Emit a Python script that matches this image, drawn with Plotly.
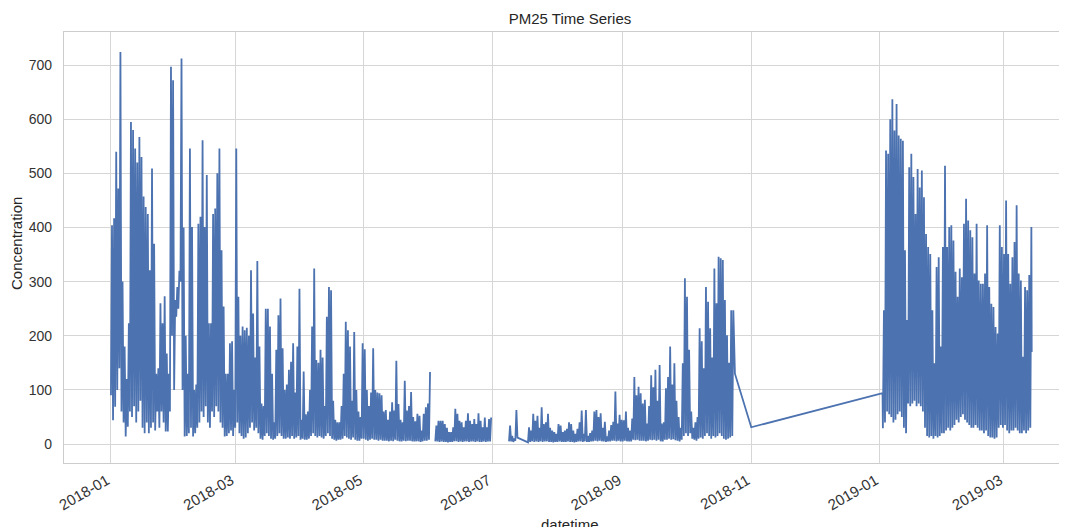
import pandas as pd
import plotly.graph_objects as go

# ---- data: daily high / low readings per continuous segment ----
segA_start = "2018-01-01"
segA_hi = [404, 417, 540, 472, 724, 300, 180, 120, 223, 595,
           580, 546, 520, 567, 530, 457, 438, 425, 321, 509,
           370, 130, 140, 260, 223, 273, 167, 130, 697, 672,
           266, 290, 320, 712, 400, 200, 130, 546, 401, 100,
           110, 407, 420, 561, 401, 497, 223, 223, 425, 435,
           500, 546, 358, 254, 130, 130, 186, 190, 100, 546,
           272, 200, 217, 210, 215, 200, 321, 241, 160, 338,
           180, 75, 70, 250, 250, 217, 130, 40, 174, 238,
           269, 177, 100, 110, 137, 152, 186, 95, 180, 287,
           45, 134, 55, 60, 100, 217, 324, 155, 150, 174,
           160, 70, 235, 290, 284, 80, 45, 40, 40, 70,
           130, 226, 210, 180, 80, 207, 100, 60, 50, 186,
           175, 100, 70, 95, 177, 100, 95, 94, 90, 60,
           63, 45, 60, 77, 62, 154, 74, 45, 40, 117,
           62, 70, 96, 50, 42, 56, 52, 25, 56, 68,
           75, 133]
segA_lo = [90, 44, 69, 100, 140, 60, 40, 14, 32, 60,
           50, 70, 40, 60, 80, 30, 20, 40, 20, 30,
           40, 25, 60, 30, 60, 40, 23, 23, 60, 200,
           100, 235, 250, 300, 100, 14, 15, 20, 30, 14,
           20, 30, 40, 60, 50, 70, 40, 30, 60, 50,
           70, 60, 40, 30, 14, 15, 20, 25, 15, 30,
           40, 20, 15, 10, 12, 20, 30, 40, 25, 30,
           20, 10, 8, 15, 20, 15, 10, 8, 10, 15,
           20, 15, 10, 10, 12, 10, 15, 10, 12, 15,
           8, 10, 8, 8, 10, 15, 20, 15, 12, 15,
           12, 10, 15, 20, 15, 10, 8, 6, 8, 8,
           10, 15, 12, 10, 8, 12, 8, 6, 6, 10,
           10, 8, 6, 8, 10, 8, 8, 6, 8, 6,
           6, 6, 5, 6, 5, 8, 6, 5, 5, 6,
           5, 6, 6, 5, 5, 5, 5, 4, 5, 6,
           6, 8]

segB_start = "2018-06-04"
segB_hi = [34, 43, 43, 43, 37, 30, 22, 22, 31, 65, 56, 43, 40, 31, 43, 57,
           43, 37, 46, 37, 57, 43, 31, 49, 31, 46, 49]
segB_lo = [5, 5, 4, 5, 4, 4, 3, 4, 4, 5, 5, 4, 5, 4, 5, 5,
           4, 5, 5, 4, 5, 4, 4, 5, 4, 5, 5]

segC_start = "2018-07-09"
segC_hi = [34, 15, 10, 63]
segC_lo = [5, 5, 4, 6]

segD_start = "2018-07-18"
segD_hi = [31, 25, 56, 43, 52, 30, 68, 37, 40, 56,
           30, 25, 22, 19, 37, 34, 22, 25, 28, 40,
           37, 25, 19, 28, 40, 62, 19,
           63, 15, 20, 25, 60, 63, 50, 57, 30, 41,
           14, 25, 35, 41, 97, 38, 54, 45, 44, 60,
           30, 25, 47, 124, 90, 106, 94, 75, 82, 38,
           70, 127, 105, 137, 80, 146, 38, 40, 103, 124,
           180, 110, 149, 80, 50, 30, 149, 306, 272, 174,
           60, 30, 40, 50, 214, 190, 140, 290, 263, 214,
           160, 324, 260, 346, 343, 340, 266, 201, 150, 247, 247]
segD_lo = [3, 4, 5, 4, 5, 4, 5, 4, 5, 5,
           4, 4, 3, 4, 4, 5, 4, 4, 4, 5,
           4, 4, 3, 4, 5, 5, 4,
           5, 4, 4, 5, 5, 6, 5, 6, 5, 5,
           4, 5, 5, 6, 6, 5, 6, 5, 5, 6,
           5, 5, 5, 8, 7, 8, 6, 6, 6, 5,
           6, 8, 7, 8, 6, 8, 5, 5, 8, 8,
           10, 8, 9, 7, 6, 5, 8, 15, 20, 15,
           20, 10, 8, 6, 10, 12, 10, 15, 20, 15,
           10, 15, 12, 15, 20, 15, 10, 8, 10, 12, 15]

segE_start = "2019-01-02 12:00"
segE_hi = [247, 542, 536, 600, 637, 579, 628, 570, 564, 560,
           358, 229, 511, 536, 493, 425, 508, 474, 505, 456,
           388, 364, 351, 247, 149, 327, 345, 180, 364, 514,
           364, 401, 404, 376, 318, 272, 324, 308, 407, 453,
           413, 395, 382, 315, 407, 302, 296, 296, 315, 404,
           290, 259, 253, 216, 204, 404, 364, 351, 450, 351,
           296, 345, 373, 441, 315, 302, 161, 290, 284, 312, 401]
segE_lo = [29, 40, 60, 55, 50, 40, 45, 55, 60, 50,
           30, 20, 75, 70, 75, 80, 70, 75, 70, 60,
           30, 15, 12, 15, 10, 15, 12, 15, 20, 20,
           25, 30, 25, 30, 35, 45, 40, 50, 55, 45,
           40, 35, 30, 30, 35, 30, 25, 25, 20, 25,
           15, 12, 12, 10, 12, 30, 35, 30, 35, 25,
           20, 25, 25, 30, 25, 20, 20, 25, 20, 25, 30]

# isolated readings between segments
bridge_times = ["2018-07-13 00:00", "2018-10-24 06:00", "2018-11-01 00:00",
                "2019-01-02 08:00", "2019-03-14 04:00"]
bridge_values = [12, 130, 31, 94, 170]

# missing (NaN) readings that break the line
gap_times = ["2018-06-02 12:00", "2018-07-05 00:00"]

y_ticks = [0, 100, 200, 300, 400, 500, 600, 700]

# ---- assemble series ----
points = []
for start, hi, lo in [(segA_start, segA_hi, segA_lo), (segB_start, segB_hi, segB_lo),
                      (segC_start, segC_hi, segC_lo), (segD_start, segD_hi, segD_lo),
                      (segE_start, segE_hi, segE_lo)]:
    days = pd.date_range(start, periods=len(hi), freq="D")
    for d, h, l in zip(days, hi, lo):
        points.append((d, l))
        points.append((d + pd.Timedelta(hours=12), h))
for t, v in zip(bridge_times, bridge_values):
    points.append((pd.Timestamp(t), v))
for t in gap_times:
    points.append((pd.Timestamp(t), None))
points.sort(key=lambda p: p[0])

x = [p[0] for p in points]
y = [p[1] for p in points]

fig = go.Figure()
fig.add_trace(go.Scatter(x=x, y=y, mode="lines",
                         line=dict(color="#4C72B0", width=1.8, simplify=False),
                         connectgaps=False, showlegend=False))

grid = "#d6d6d6"
frame = "#cccccc"
# the page body has an 8px margin, so the figure is sized to end at the window edge
fig.update_layout(
    width=1059, height=519,
    margin=dict(l=56, r=0, t=24, b=64),
    paper_bgcolor="white", plot_bgcolor="white",
    font=dict(family="Liberation Sans, Arial, sans-serif", color="#262626", size=14),
    title=dict(text="PM25 Time Series", x=0.5045, xref="paper", xanchor="center",
               y=1 - 11 / 519, yref="container", yanchor="middle",
               font=dict(size=15, color="#262626")),
    showlegend=False,
)
fig.update_xaxes(
    type="date", range=["2017-12-09 17:00", "2019-03-30 22:00"],
    tick0="2018-01-01", dtick="M2", tickformat="%Y-%m", tickangle=-30,
    showgrid=True, gridcolor=grid, gridwidth=1.2,
    showline=True, linecolor=frame, linewidth=1.3, mirror=True,
    ticks="outside", ticklen=2, tickcolor="rgba(0,0,0,0)",
    ticklabelshift=-4,
    tickfont=dict(size=15, color="#333333"), zeroline=False,
)
fig.update_yaxes(
    range=[-35, 761], tickvals=y_ticks, ticktext=[str(v) for v in y_ticks],
    showgrid=True, gridcolor=grid, gridwidth=1.2,
    showline=True, linecolor=frame, linewidth=1.3, mirror=False,
    ticks="outside", ticklen=8, tickcolor="rgba(0,0,0,0)",
    tickfont=dict(size=14, color="#333333"), zeroline=False,
)
fig.add_annotation(text="datetime", xref="paper", yref="paper", x=0.5045, y=-0.119,
                   xanchor="center", yanchor="top", showarrow=False,
                   font=dict(size=15, color="#262626"))
fig.add_annotation(text="Concentration", xref="paper", yref="paper", x=-0.048, y=0.51,
                   xanchor="center", yanchor="middle", textangle=-90, showarrow=False,
                   font=dict(size=15, color="#262626"))

fig.write_html("out.html")
